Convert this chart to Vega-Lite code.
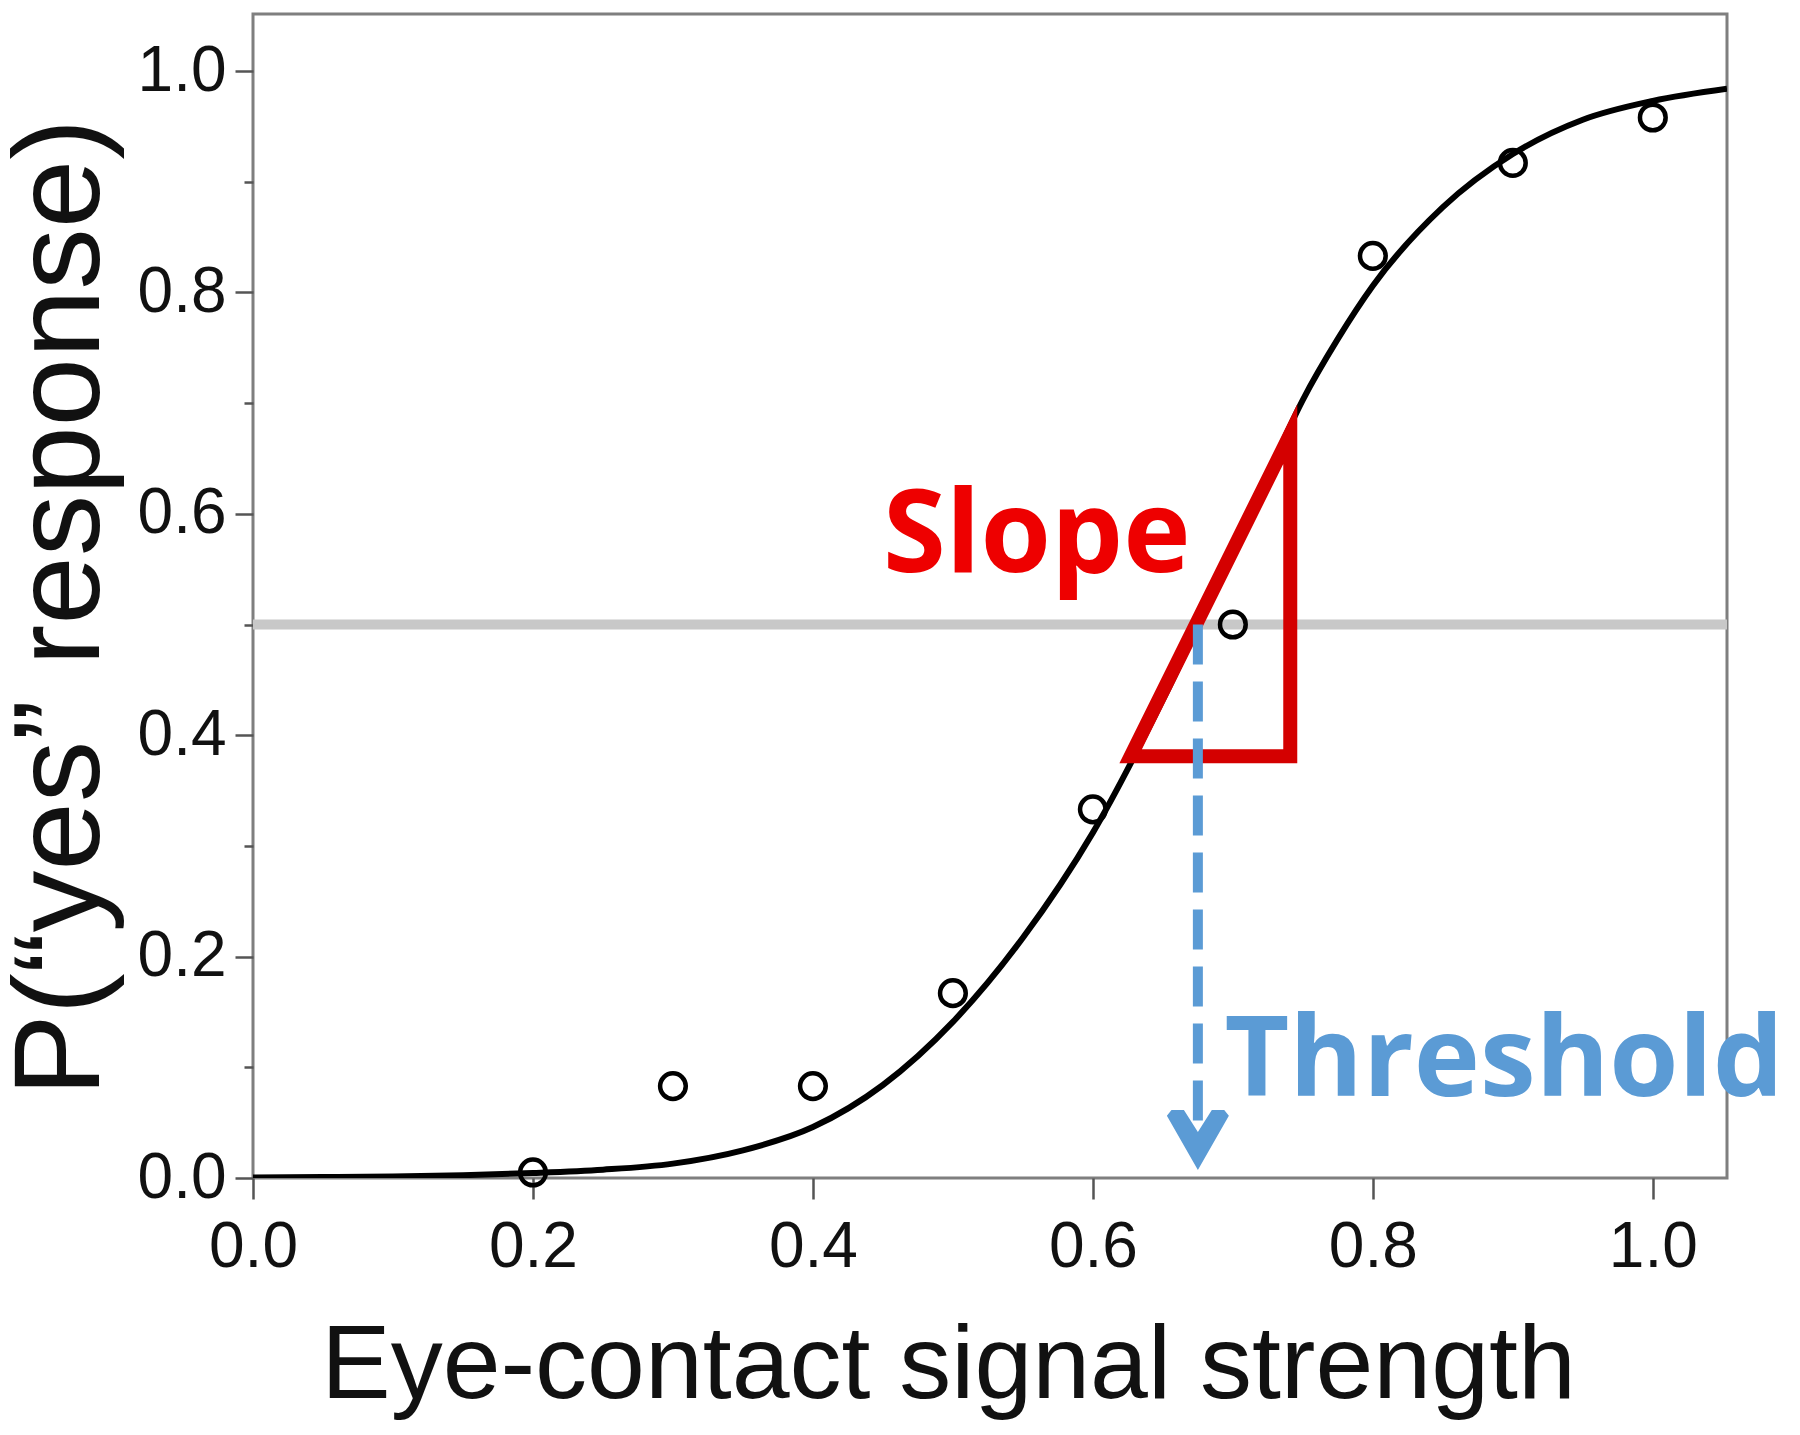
{
  "$schema": "https://vega.github.io/schema/vega-lite/v6.json",
  "width": 1474,
  "height": 1164,
  "autosize": {"type": "none"},
  "padding": {"left": 253, "top": 14, "right": 73, "bottom": 257},
  "background": "white",
  "config": {
    "view": {"stroke": "#7f7f7f", "strokeWidth": 3},
    "axis": {
      "domain": false,
      "grid": false,
      "tickColor": "#555555",
      "tickWidth": 2.5,
      "labelFont": "Liberation Sans",
      "labelFontSize": 64,
      "labelColor": "#111111",
      "labelFlush": false,
      "labelOverlap": false,
      "titleFont": "Liberation Sans",
      "titleFontWeight": "normal",
      "titleColor": "#111111"
    }
  },
  "datasets": {
    "curve": [
      {"x": 0.0, "y": 0.0005},
      {"x": 0.05, "y": 0.0008},
      {"x": 0.1, "y": 0.0013},
      {"x": 0.15, "y": 0.0025},
      {"x": 0.2, "y": 0.0045},
      {"x": 0.25, "y": 0.0075},
      {"x": 0.3, "y": 0.013},
      {"x": 0.35, "y": 0.025},
      {"x": 0.4, "y": 0.046},
      {"x": 0.45, "y": 0.084},
      {"x": 0.5, "y": 0.141},
      {"x": 0.55, "y": 0.217},
      {"x": 0.6, "y": 0.312},
      {"x": 0.65, "y": 0.432},
      {"x": 0.7, "y": 0.567},
      {"x": 0.725, "y": 0.636},
      {"x": 0.75, "y": 0.703},
      {"x": 0.775, "y": 0.758},
      {"x": 0.8, "y": 0.806},
      {"x": 0.85, "y": 0.877},
      {"x": 0.9, "y": 0.925},
      {"x": 0.95, "y": 0.956},
      {"x": 1.0, "y": 0.973},
      {"x": 1.053, "y": 0.984}
    ],
    "obs": [
      {"x": 0.2, "y": 0.005},
      {"x": 0.3, "y": 0.083},
      {"x": 0.4, "y": 0.083},
      {"x": 0.5, "y": 0.167},
      {"x": 0.6, "y": 0.333},
      {"x": 0.7, "y": 0.5},
      {"x": 0.8, "y": 0.833},
      {"x": 0.9, "y": 0.917},
      {"x": 1.0, "y": 0.958}
    ],
    "half": [{"x": 0, "x2": 1.053, "y": 0.5}],
    "tri": [
      {"i": 0, "x": 0.685, "y": 0.381},
      {"i": 1, "x": 0.741, "y": 0.381},
      {"i": 2, "x": 0.741, "y": 0.672},
      {"i": 3, "x": 0.627, "y": 0.381},
      {"i": 4, "x": 0.685, "y": 0.381}
    ],
    "thr": [{"x": 0.675, "y": 0.5, "y2": 0.048}],
    "arrow": [{"x": 0.675, "y": 0.0343}],
    "slope": [{"x": 0.45, "y": 0.547, "label": "Slope"}],
    "threshold": [{"x": 0.694, "y": 0.074, "label": "Threshold"}]
  },
  "encoding": {
    "x": {
      "field": "x",
      "type": "quantitative",
      "scale": {"domain": [0, 1.053], "nice": false, "zero": false},
      "axis": {
        "values": [0, 0.2, 0.4, 0.6, 0.8, 1.0],
        "format": ".1f",
        "tickSize": 21,
        "labelPadding": 16,
        "title": "Eye-contact signal strength",
        "titleFontSize": 104,
        "titleX": 695,
        "titleY": 219,
        "titleAlign": "center",
        "titleBaseline": "alphabetic"
      }
    },
    "y": {
      "field": "y",
      "type": "quantitative",
      "scale": {"domain": [0, 1.0515], "nice": false, "zero": false},
      "axis": {
        "values": [0, 0.1, 0.2, 0.3, 0.4, 0.5, 0.6, 0.7, 0.8, 0.9, 1.0],
        "labelExpr": "round(datum.value*10) % 2 === 0 ? format(datum.value, '.1f') : ''",
        "tickSize": {"condition": {"test": "round(datum.value*10) % 2 === 1", "value": 9}, "value": 18},
        "labelPadding": 9,
        "title": "P(“yes” response)",
        "titleFontSize": 123,
        "titleAngle": -90,
        "titleX": -129,
        "titleY": 593,
        "titleAlign": "center",
        "titleBaseline": "bottom"
      }
    }
  },
  "layer": [
    {
      "data": {"name": "half"},
      "mark": {"type": "rule", "color": "#c8c8c8", "strokeWidth": 10},
      "encoding": {"x2": {"field": "x2"}}
    },
    {
      "data": {"name": "curve"},
      "mark": {"type": "line", "color": "#000000", "strokeWidth": 6, "interpolate": "monotone", "clip": true}
    },
    {
      "data": {"name": "obs"},
      "mark": {"type": "point", "shape": "circle", "filled": false, "color": "#000000", "strokeWidth": 4.5, "size": 660, "opacity": 1}
    },
    {
      "data": {"name": "tri"},
      "mark": {"type": "line", "color": "#d40000", "strokeWidth": 14, "strokeJoin": "miter", "strokeMiterLimit": 10},
      "encoding": {"order": {"field": "i", "type": "quantitative"}}
    },
    {
      "data": {"name": "thr"},
      "mark": {"type": "rule", "color": "#5b9bd5", "strokeWidth": 10, "strokeDash": [40, 17]},
      "encoding": {"y2": {"field": "y2"}}
    },
    {
      "data": {"name": "arrow"},
      "mark": {
        "type": "point",
        "shape": "M0,0.97L-1,-0.78L-0.85,-0.97L-0.45,-0.97L0,-0.26L0.45,-0.97L0.85,-0.97L1,-0.78Z",
        "filled": true,
        "color": "#5b9bd5",
        "size": 3844,
        "opacity": 1,
        "strokeWidth": 0
      }
    },
    {
      "data": {"name": "slope"},
      "mark": {"type": "text", "align": "left", "baseline": "alphabetic", "font": "Open Sans", "fontWeight": "bold", "fontSize": 114, "color": "#ee0000"},
      "encoding": {"text": {"field": "label"}}
    },
    {
      "data": {"name": "threshold"},
      "mark": {"type": "text", "align": "left", "baseline": "alphabetic", "font": "Open Sans", "fontWeight": "bold", "fontSize": 112, "color": "#5b9bd5"},
      "encoding": {"text": {"field": "label"}}
    }
  ]
}
